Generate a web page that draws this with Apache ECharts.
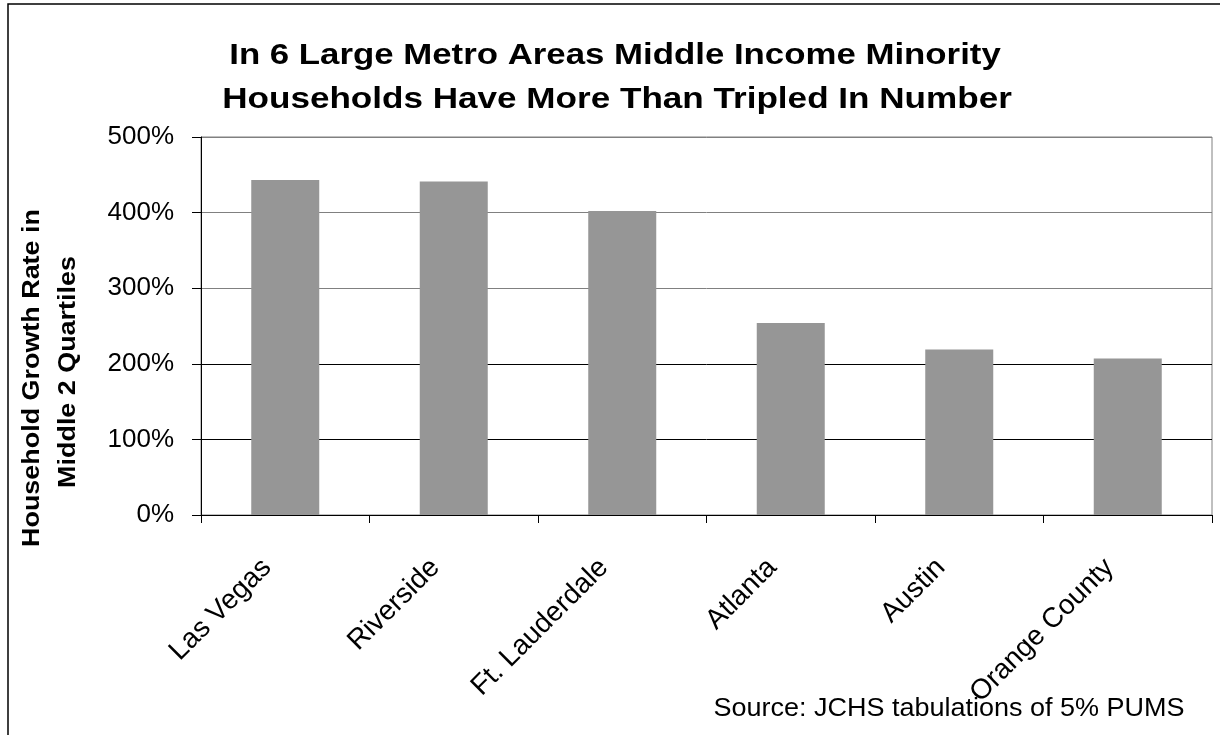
<!DOCTYPE html>
<html>
<head>
<meta charset="utf-8">
<title>Middle Income Minority Household Growth</title>
<script src="https://cdn.jsdelivr.net/npm/echarts@6/dist/echarts.min.js"></script>
<style>
  html, body { margin: 0; padding: 0; background: #ffffff; }
  #chart { width: 1220px; height: 735px; }
</style>
</head>
<body>
<div id="chart"></div>
<script>
// Metro areas, in the order shown
const categories = ['Las Vegas', 'Riverside', 'Ft. Lauderdale', 'Atlanta', 'Austin', 'Orange County'];
// Household growth rate (%) in the middle two income quartiles
const growthRates = [443, 441, 402, 254, 219, 207];
// Value axis range and step (%)
const axisMin = 0;
const axisMax = 500;
const axisStep = 100;

const titleLines = [
  'In 6 Large Metro Areas Middle Income Minority',
  'Households Have More Than Tripled In Number'
];
const yTitleLines = ['Household Growth Rate in', 'Middle 2 Quartiles'];
const sourceNote = 'Source: JCHS tabulations of 5% PUMS';

const FONT = '"Liberation Sans", Arial, Helvetica, sans-serif';

const chart = echarts.init(document.getElementById('chart'));

chart.setOption({
  backgroundColor: '#ffffff',
  animation: false,
  grid: {
    left: 201,
    right: 8,
    top: 137,
    bottom: 220,
    show: true,
    borderColor: '#808080',
    borderWidth: 1,
    backgroundColor: 'transparent'
  },
  xAxis: {
    type: 'category',
    data: categories,
    boundaryGap: true,
    axisLine: { show: true, lineStyle: { color: '#000', width: 1 } },
    axisTick: { show: true, alignWithLabel: false, length: 8, lineStyle: { color: '#000' } },
    axisLabel: {
      interval: 0,
      rotate: 45,
      margin: 30,
      padding: [0, 26, 0, 0],
      color: '#000',
      fontFamily: FONT,
      fontSize: 28
    },
    splitLine: { show: false }
  },
  yAxis: {
    type: 'value',
    min: axisMin,
    max: axisMax,
    interval: axisStep,
    axisLine: { show: true, lineStyle: { color: '#000', width: 1 } },
    axisTick: { show: true, length: 9, inside: false, lineStyle: { color: '#000' } },
    axisLabel: {
      formatter: '{value}%',
      margin: 27,
      color: '#000',
      fontFamily: FONT,
      fontSize: 26
    },
    splitLine: {
      show: true,
      lineStyle: {
        color: ['#000', '#000', '#000', '#808080', '#808080', '#808080'],
        width: 1
      }
    }
  },
  series: [{
    type: 'bar',
    data: growthRates,
    barWidth: 68,
    itemStyle: { color: '#969696' },
    label: { show: false }
  }],
  graphic: [
    {
      type: 'rect',
      shape: { x: 8, y: 4, width: 1400, height: 900 },
      style: { fill: 'none', stroke: '#000', lineWidth: 1.5 },
      silent: true,
      z: 100
    },
    {
      type: 'text',
      x: 615, y: 56,
      scaleX: 1.2,
      style: {
        text: titleLines[0],
        fill: '#000',
        font: 'bold 29px ' + FONT,
        textAlign: 'center',
        textVerticalAlign: 'middle'
      }
    },
    {
      type: 'text',
      x: 617, y: 100,
      scaleX: 1.21,
      style: {
        text: titleLines[1],
        fill: '#000',
        font: 'bold 29px ' + FONT,
        textAlign: 'center',
        textVerticalAlign: 'middle'
      }
    },
    {
      type: 'text',
      x: 33, y: 378,
      rotation: Math.PI / 2,
      scaleX: 1.17,
      style: {
        text: yTitleLines[0],
        fill: '#000',
        font: 'bold 23px ' + FONT,
        textAlign: 'center',
        textVerticalAlign: 'middle'
      }
    },
    {
      type: 'text',
      x: 69, y: 372,
      rotation: Math.PI / 2,
      scaleX: 1.17,
      style: {
        text: yTitleLines[1],
        fill: '#000',
        font: 'bold 23px ' + FONT,
        textAlign: 'center',
        textVerticalAlign: 'middle'
      }
    },
    {
      type: 'text',
      x: 949, y: 709,
      scaleX: 1.08,
      style: {
        text: sourceNote,
        fill: '#000',
        font: '25px ' + FONT,
        textAlign: 'center',
        textVerticalAlign: 'middle'
      }
    }
  ]
});
</script>
</body>
</html>
